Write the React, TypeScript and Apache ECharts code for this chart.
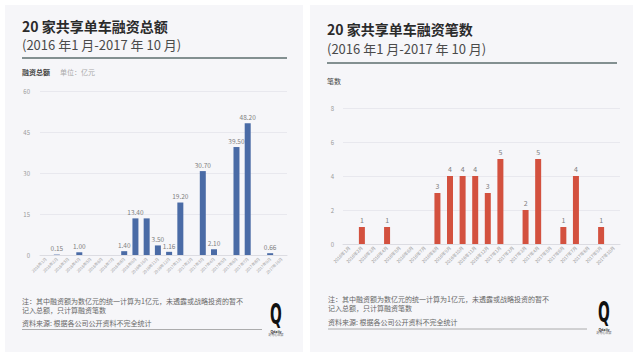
import React, { useEffect, useRef } from "react";
import * as echarts from "echarts";

const categories = [
  "2016年1月", "2016年2月", "2016年3月", "2016年4月", "2016年5月", "2016年6月",
  "2016年7月", "2016年8月", "2016年9月", "2016年10月", "2016年11月", "2016年12月",
  "2017年1月", "2017年2月", "2017年3月", "2017年4月", "2017年5月", "2017年6月",
  "2017年7月", "2017年8月", "2017年9月", "2017年10月",
];
const amounts = [0, 0.15, 0, 1.0, 0, 0, 0, 1.4, 13.4, 13.4, 3.5, 1.16, 19.2, 0, 30.7, 2.1, 0, 39.5, 48.2, 0, 0.66, 0];
const counts = [0, 1, 0, 1, 0, 0, 0, 3, 4, 4, 4, 3, 5, 0, 2, 5, 0, 1, 4, 0, 1, 0];
const amountTicks = [0, 15, 30, 45, 60];
const countTicks = [0, 2, 4, 6, 8];
// the reference prints one shared "13.40" label over the two equal bars
const amountsUnlabeled = ["2016年10月"];

const leftTitle = "20 家共享单车融资总额";
const rightTitle = "20 家共享单车融资笔数";
const subTitle = "(2016 年1 月-2017 年 10 月)";
const leftAxisName = "融资总额";
const leftUnit = "单位：亿元";
const rightAxisName = "笔数";
const note1 = "注：其中融资额为数亿元的统一计算为1亿元，未透露或战略投资的暂不";
const note2 = "记入总额，只计算融资笔数";
const source = "资料来源: 根据各公司公开资料不完全统计";

const FONT = '"Noto Sans CJK SC", "Noto Sans", sans-serif';

function txt(x: number, y: number, text: string, fontSize: number, fill: string, fontWeight: any = "normal", extra: any = {}) {
  return {
    type: "text",
    x,
    y,
    silent: true,
    style: {
      text,
      fontSize,
      fontWeight,
      fill,
      fontFamily: FONT,
      textVerticalAlign: "middle",
      verticalAlign: "middle",
      ...extra,
    },
  };
}

function logo(x: number, y: number) {
  return [
    {
      type: "text",
      x,
      y,
      scaleX: 0.55,
      silent: true,
      style: {
        text: "Q",
        fontSize: 28,
        fontWeight: "bold",
        fill: "#111",
        fontFamily: '"DejaVu Sans Condensed", "DejaVu Sans", sans-serif',
        textAlign: "center",
        textVerticalAlign: "top",
        verticalAlign: "top",
      },
    },
    txt(x, y + 31, "Qdaily", 3.5, "#333", "bold", { textAlign: "center" }),
    txt(x, y + 35, "好奇心日报", 3, "#555", "normal", { textAlign: "center" }),
  ];
}

export default function App() {
  const ref = useRef<HTMLDivElement>(null);
  useEffect(() => {
    if (!ref.current) return;
    const chart = echarts.init(ref.current, null, { renderer: "svg" });
    const axisLabelColor = "#9a9a9a";
    const splitColor = "#e8e8ee";
    const amountData = amounts.map((v, i) =>
      amountsUnlabeled.includes(categories[i]) ? { value: v, label: { show: false } } : v
    );
    const option: any = {
      animation: false,
      backgroundColor: "#ffffff",
      textStyle: { fontFamily: FONT },
      graphic: [
        { type: "rect", shape: { x: 5, y: 5, width: 298, height: 347 }, style: { fill: "#f6f6f9" }, z: -10, silent: true },
        { type: "rect", shape: { x: 310, y: 5, width: 323, height: 347 }, style: { fill: "#f6f6f9" }, z: -10, silent: true },
        txt(22, 26, leftTitle, 14, "#2b2b2b", "bold"),
        txt(22, 44, subTitle, 13, "#4a4a4a"),
        { type: "line", shape: { x1: 22, y1: 58, x2: 287, y2: 58 }, style: { stroke: "#5c6e6e", lineWidth: 1.5 }, silent: true },
        txt(22, 72, leftAxisName, 7, "#444", "bold"),
        txt(60, 72, leftUnit, 7, "#aaa"),
        txt(22, 300.5, note1, 7, "#666"),
        txt(22, 310, note2, 7, "#666"),
        txt(22, 322.5, source, 7, "#666"),
        { type: "line", shape: { x1: 22, y1: 329.5, x2: 262, y2: 329.5 }, style: { stroke: "#999", lineWidth: 0.8 }, silent: true },
        ...logo(276, 300),
        txt(327, 29, rightTitle, 14, "#2b2b2b", "bold"),
        txt(327, 48, subTitle, 13, "#4a4a4a"),
        { type: "line", shape: { x1: 327, y1: 63, x2: 617, y2: 63 }, style: { stroke: "#5c6e6e", lineWidth: 1.5 }, silent: true },
        txt(327, 81, rightAxisName, 7, "#444"),
        txt(328, 299, note1, 7, "#666"),
        txt(328, 307.5, note2, 7, "#666"),
        txt(328, 321.5, source, 7, "#666"),
        { type: "line", shape: { x1: 328, y1: 329, x2: 587, y2: 329 }, style: { stroke: "#999", lineWidth: 0.8 }, silent: true },
        ...logo(604, 298),
      ],
      grid: [
        { left: 40, right: 353, top: 91, bottom: 104 },
        { left: 343, right: 20, top: 108, bottom: 115 },
      ],
      xAxis: [
        {
          type: "category",
          gridIndex: 0,
          data: categories,
          axisTick: { show: false },
          axisLine: { lineStyle: { color: "#dcdce2" } },
          axisLabel: { interval: 0, rotate: 45, fontSize: 4, color: "#999", margin: 3 },
        },
        {
          type: "category",
          gridIndex: 1,
          data: categories,
          axisTick: { show: false },
          axisLine: { lineStyle: { color: "#dcdce2" } },
          axisLabel: { interval: 0, rotate: 45, fontSize: 4.5, color: "#999", margin: 3 },
        },
      ],
      yAxis: [
        {
          type: "value",
          gridIndex: 0,
          min: amountTicks[0],
          max: amountTicks[amountTicks.length - 1],
          interval: amountTicks[1] - amountTicks[0],
          axisLine: { show: false },
          axisTick: { show: false },
          splitLine: { lineStyle: { color: splitColor } },
          axisLabel: { fontSize: 6, color: axisLabelColor, margin: 10 },
        },
        {
          type: "value",
          gridIndex: 1,
          min: countTicks[0],
          max: countTicks[countTicks.length - 1],
          interval: countTicks[1] - countTicks[0],
          axisLine: { show: false },
          axisTick: { show: false },
          splitLine: { lineStyle: { color: splitColor } },
          axisLabel: { fontSize: 6, color: axisLabelColor, margin: 9 },
        },
      ],
      series: [
        {
          type: "bar",
          xAxisIndex: 0,
          yAxisIndex: 0,
          data: amountData,
          barWidth: 6,
          itemStyle: { color: "#4a6ba6" },
          label: {
            show: true,
            position: "top",
            fontSize: 6.5,
            color: "#808080",
            distance: 3,
            formatter: (p: any) => (p.value > 0 ? Number(p.value).toFixed(2) : ""),
          },
        },
        {
          type: "bar",
          xAxisIndex: 1,
          yAxisIndex: 1,
          data: counts,
          barWidth: 6,
          itemStyle: { color: "#d3513f" },
          label: {
            show: true,
            position: "top",
            fontSize: 7,
            color: "#808080",
            distance: 4,
            formatter: (p: any) => (p.value > 0 ? String(p.value) : ""),
          },
        },
      ],
    };
    chart.setOption(option);
    return () => chart.dispose();
  }, []);
  return (
    <div
      ref={ref}
      style={{ position: "fixed", left: 0, top: 0, width: 640, height: 359 }}
    />
  );
}
